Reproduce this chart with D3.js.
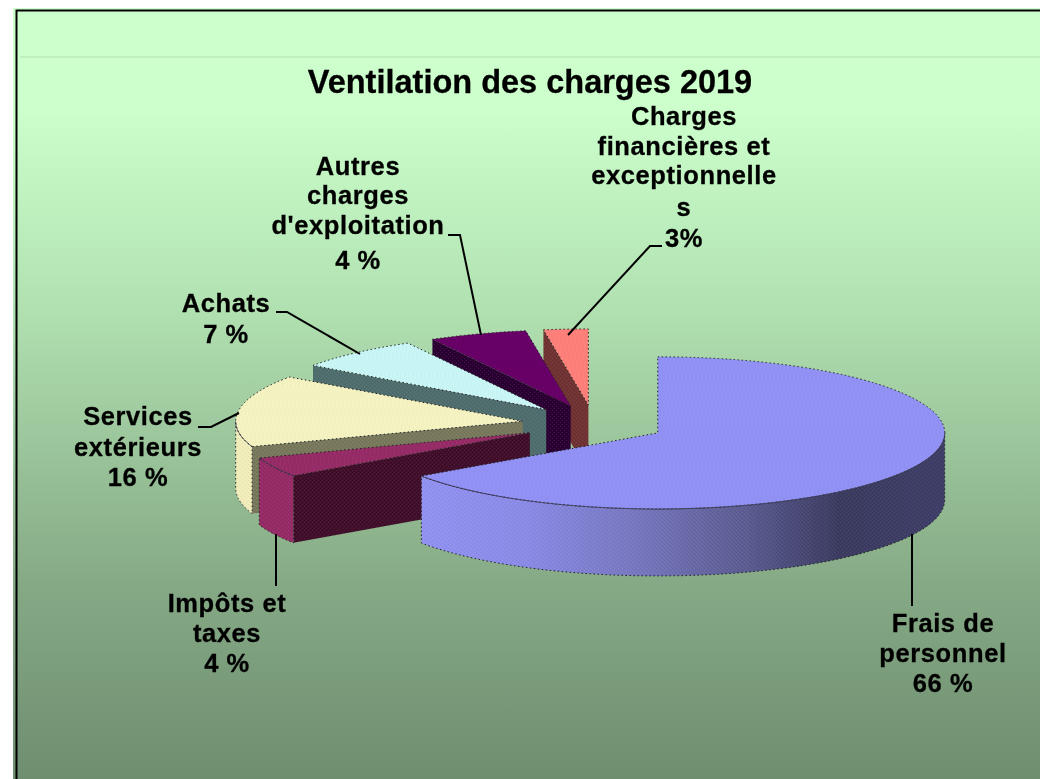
<!DOCTYPE html>
<html>
<head>
<meta charset="utf-8">
<script src="https://cdn.jsdelivr.net/npm/d3@7"></script>
<style>
    html, body { margin: 0; padding: 0; background: #fff; }
    svg { display: block; }
    text { font-family: "Liberation Sans", Arial, sans-serif; font-weight: bold; fill: #000; stroke: #000; stroke-width: 0.3px; }
</style>
</head>
<body>
<div id="pie-chart"></div>
<script>
'use strict';

const title = "Ventilation des charges 2019"
const categories = ["Frais de personnel", "Impôts et taxes", "Services extérieurs", "Achats", "Autres charges d'exploitation", "Charges financières et exceptionnelles"]
// printed on the labels
const percentLabels = ["66 %", "4 %", "16 %", "7 %", "4 %", "3%"]
// share of the circle each slice really takes in the picture
const shares = [65.4, 4.2, 15.3, 7.1, 5.5, 2.5]
const topColors = ["#9191f6", "#962b66", "#f6f3c2", "#c9f6f6", "#660066", "#ff7f79"]
const wallColors = ["#9191f6", "#952b66", "#f1edbb", "#4f6d6d", "#2c0033", "#6f3230"]
const cutColors = ["#3a3a60", "#3f102a", "#78785c", "#4f6d6d", "#2c0033", "#6f3230"]

const width = 1040,
    height = 779;

// pie geometry
const center = { x: 594, y: 424 },
    radius = 287,
    tilt = 0.265,
    depth = 67,
    explode = 72;

const svg = d3.select("#pie-chart").append("svg")
    .attr("width", width)
    .attr("height", height)
    .attr("viewBox", "0 0 " + width + " " + height);

const defs = svg.append("defs")

const bgGradient = defs.append("linearGradient")
    .attr("id", "bg")
    .attr("x1", 0).attr("x2", 0).attr("y1", 0).attr("y2", 1);
[[0, "#ccffcc"], [0.13, "#ccffcc"], [0.38, "#b2e2b2"], [0.75, "#85a985"], [1, "#6e8e70"]].forEach(s => {
    bgGradient.append("stop").attr("offset", s[0]).attr("stop-color", s[1])
})

// shading along the big slice's rim
const wallGradient = defs.append("linearGradient")
    .attr("id", "wall-shade")
    .attr("gradientUnits", "userSpaceOnUse")
    .attr("x1", 424).attr("x2", 945).attr("y1", 0).attr("y2", 0);
[[0, "#9191f2"], [0.2, "#8a8ae6"], [0.42, "#7575bd"], [0.62, "#5b5b90"], [0.8, "#3a3a60"], [1, "#3e3e68"]].forEach(s => {
    wallGradient.append("stop").attr("offset", s[0]).attr("stop-color", s[1])
})

const dither = defs.append("pattern")
    .attr("id", "dither")
    .attr("width", 4).attr("height", 4)
    .attr("patternUnits", "userSpaceOnUse");
dither.append("path").attr("d", "M0,0h1v1h-1zM2,2h1v1h-1z").attr("fill", "rgba(0,0,0,.05)")
dither.append("path").attr("d", "M2,0h1v1h-1zM0,2h1v1h-1z").attr("fill", "rgba(255,255,255,.07)")

defs.append("filter").attr("id", "soft")
    .append("feGaussianBlur").attr("stdDeviation", 0.35)

// background and frame
svg.append("rect")
    .attr("x", 13).attr("y", 8)
    .attr("width", width - 13).attr("height", height - 8)
    .attr("fill", "url(#bg)")
svg.append("line")
    .attr("x1", 20).attr("x2", width).attr("y1", 57).attr("y2", 57)
    .attr("stroke", "#b4e0b4").attr("stroke-width", 1)
svg.append("path")
    .attr("d", `M16.5,${height}V10.5H${width}`)
    .attr("fill", "none").attr("stroke", "#000").attr("stroke-width", 2)

const chart = svg.append("g").attr("filter", "url(#soft)")

const slices = d3.pie().sort(null).value(d => d).startAngle(0).endAngle(2 * Math.PI)(shares)
    .map((d, i) => {
        const mid = (d.startAngle + d.endAngle) / 2
        return {
            index: i,
            start: d.startAngle,
            end: d.endAngle,
            apex: [center.x + explode * Math.sin(mid), center.y - explode * Math.cos(mid) * tilt]
        }
    })

// point on the rim of a slice (angle clockwise from 12 o'clock)
const rim = (s, a, drop = 0) => [
    s.apex[0] + radius * Math.sin(a),
    s.apex[1] - radius * Math.cos(a) * tilt + drop
]

const topArc = d3.arc().innerRadius(0).outerRadius(radius)

const line = d3.line()

// rim face between two angles
const wallPath = (s, a0, a1) => {
    const steps = d3.range(0, 61).map(k => a0 + (a1 - a0) * k / 60)
    const upper = steps.map(a => rim(s, a))
    const lower = steps.slice().reverse().map(a => rim(s, a, depth))
    return line(upper.concat(lower)) + "Z"
}

// flat cut face along one radius
const cutPath = (s, a) => line([s.apex, rim(s, a), rim(s, a, depth), [s.apex[0], s.apex[1] + depth]]) + "Z"

// back slices first, the big one last
slices.slice().reverse().forEach(s => {
    const g = chart.append("g").attr("class", "slice")

    if (Math.sin(s.start) < -1e-6) {
        g.append("path")
            .attr("d", cutPath(s, s.start))
            .attr("fill", cutColors[s.index])
        g.append("path")
            .attr("d", cutPath(s, s.start))
            .attr("fill", "url(#dither)")
    }

    const a0 = Math.max(s.start, Math.PI / 2),
        a1 = Math.min(s.end, 3 * Math.PI / 2);
    if (a1 > a0) {
        const d = wallPath(s, a0, a1)
        g.append("path")
            .attr("d", d)
            .attr("fill", s.index === 0 ? "url(#wall-shade)" : wallColors[s.index])
        g.append("path").attr("d", d).attr("fill", "url(#dither)")
        g.append("path")
            .attr("d", d)
            .attr("fill", "none")
            .attr("stroke", "#222")
            .attr("stroke-width", 1)
            .attr("stroke-dasharray", "1.5 2.5")
    }

    const top = topArc({ startAngle: s.start, endAngle: s.end })
    const topTransform = `translate(${s.apex}) scale(1,${tilt})`
    g.append("path")
        .attr("d", top)
        .attr("transform", topTransform)
        .attr("fill", topColors[s.index])
    g.append("path")
        .attr("d", top)
        .attr("transform", topTransform)
        .attr("fill", "url(#dither)")
    g.append("path")
        .attr("d", top)
        .attr("transform", topTransform)
        .attr("fill", "none")
        .attr("stroke", "#222")
        .attr("stroke-width", 1)
        .attr("stroke-dasharray", "1.5 2.5")
        .attr("vector-effect", "non-scaling-stroke")

    // thin dark edge where the top meets the rim
    if (a1 > a0) {
        const edge = d3.range(0, 61).map(k => rim(s, a0 + (a1 - a0) * k / 60))
        g.append("path")
            .attr("d", line(edge))
            .attr("fill", "none")
            .attr("stroke", "#3c3c5e")
            .attr("stroke-width", 1)
            .attr("opacity", 0.75)
    }
})

// label placement, same order as categories
const labelLines = [
    ["Frais de", "personnel"],
    ["Impôts et", "taxes"],
    ["Services", "extérieurs"],
    ["Achats"],
    ["Autres", "charges", "d'exploitation"],
    ["Charges", "financières et", "exceptionnelle", "s"]
]
const labelX = [943, 227, 138, 226, 358, 684]
const labelBaselines = [
    [632, 662, 692],
    [612, 642, 672],
    [425, 456, 486],
    [312, 343],
    [175, 204, 234, 269],
    [125, 155, 184, 216, 247]
]
const leaders = [
    [[912, 534], [912, 606]],
    [[276, 534], [276, 586]],
    [[239, 413], [211, 427], [198, 427]],
    [[360, 354], [287, 312], [276, 312]],
    [[481, 335], [460, 235], [448, 235]],
    [[568, 335], [650, 246], [662, 246]]
]

chart.append("g")
    .selectAll("path")
    .data(leaders)
    .enter()
    .append("path")
    .attr("d", d => line(d))
    .attr("fill", "none")
    .attr("stroke", "#000")
    .attr("stroke-width", 2)

const labels = chart.append("g")
    .selectAll("text")
    .data(categories)
    .enter()
    .append("text")
    .attr("text-anchor", "middle")
    .attr("font-size", 25.5)
    .attr("letter-spacing", 0.6)

labels.selectAll("tspan")
    .data((d, i) => labelLines[i].concat(percentLabels[i]).map((t, k) => ({ t: t, x: labelX[i], y: labelBaselines[i][k] })))
    .enter()
    .append("tspan")
    .attr("x", d => d.x)
    .attr("y", d => d.y)
    .text(d => d.t)

chart.append("text")
    .attr("x", 530)
    .attr("y", 93)
    .attr("text-anchor", "middle")
    .attr("font-size", 32.5)
    .text(title)
</script>
</body>
</html>
